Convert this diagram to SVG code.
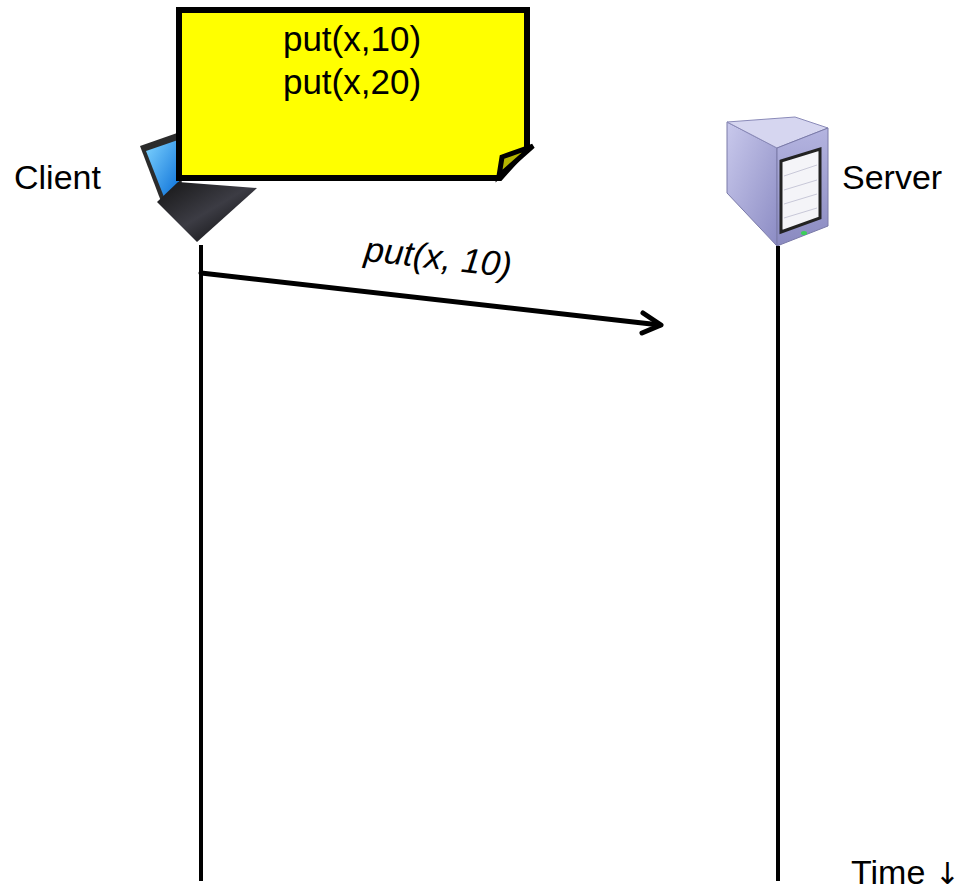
<svg xmlns="http://www.w3.org/2000/svg" width="959" height="893" viewBox="0 0 959 893">
  <style>
    .label { font-family: "Liberation Sans", Arial, sans-serif; font-size: 34px; fill: #000; }
    .note-text { font-family: "Liberation Sans", Arial, sans-serif; font-size: 35px; fill: #000; }
    .msg { font-family: "Liberation Sans", Arial, sans-serif; font-size: 35px; font-style: italic; fill: #000; }
    .lifeline { stroke: #000; stroke-width: 4; fill: none; }
    .arrow { stroke: #000; stroke-width: 5; fill: none; stroke-linecap: round; stroke-linejoin: round; }
  </style>
  <defs>
    <linearGradient id="screenGrad" x1="0" y1="0" x2="1" y2="1">
      <stop offset="0" stop-color="#7fd4ff"/>
      <stop offset="1" stop-color="#0a6fd8"/>
    </linearGradient>
    <linearGradient id="baseGrad" x1="0" y1="0" x2="1" y2="1">
      <stop offset="0" stop-color="#151515"/>
      <stop offset="0.5" stop-color="#3c3c44"/>
      <stop offset="1" stop-color="#020202"/>
    </linearGradient>
    <linearGradient id="sideGrad" x1="0" y1="0" x2="1" y2="1">
      <stop offset="0" stop-color="#c9c9ec"/>
      <stop offset="1" stop-color="#8c8cc4"/>
    </linearGradient>
    <linearGradient id="frontGrad" x1="0" y1="0" x2="0" y2="1">
      <stop offset="0" stop-color="#b4b4e0"/>
      <stop offset="1" stop-color="#8a8ac0"/>
    </linearGradient>
  </defs>

  <!-- Client laptop -->
  <g id="client-icon">
    <polygon points="140,146 180,132 182,190 162,204" fill="#2b2b2b"/>
    <polygon points="146,151 178,140 179,186 164,197" fill="url(#screenGrad)"/>
    <polygon points="157,202 178,182 257,188 197,242" fill="url(#baseGrad)"/>
  </g>

  <!-- Server tower -->
  <g id="server-icon">
    <polygon points="727,122 777,148 777,246 727,193" fill="url(#sideGrad)" stroke="#7a7aa8" stroke-width="1"/>
    <polygon points="727,122 795,117 828,128 777,148" fill="#d6d6f0" stroke="#8a8ab8" stroke-width="1"/>
    <polygon points="777,148 828,128 828,226 777,246" fill="url(#frontGrad)" stroke="#7a7aa8" stroke-width="1"/>
    <polygon points="781,161 820,149 820,218 781,232" fill="#f4f4f8" stroke="#222" stroke-width="3"/>
    <g stroke="#c8c8d8" stroke-width="1">
      <line x1="784" y1="176" x2="817" y2="165"/>
      <line x1="784" y1="190" x2="817" y2="180"/>
      <line x1="784" y1="204" x2="817" y2="194"/>
      <line x1="784" y1="218" x2="817" y2="208"/>
    </g>
    <ellipse cx="804" cy="233" rx="3" ry="2" fill="#3ccf5a"/>
  </g>

  <!-- Note -->
  <g id="note">
    <path d="M179,10 H527 V148 L500,178 H179 Z" fill="#ffff00" stroke="#000" stroke-width="6" stroke-linejoin="miter"/>
    <polygon points="502,157 533,146 499,176" fill="#b5b500" stroke="#000" stroke-width="5" stroke-linejoin="miter"/>
    <text class="note-text" x="352" y="51" text-anchor="middle">put(x,10)</text>
    <text class="note-text" x="352" y="94" text-anchor="middle">put(x,20)</text>
  </g>

  <g id="client">
    <text class="label" x="14" y="189">Client</text>
  </g>
  <g id="server">
    <text class="label" x="842" y="189">Server</text>
  </g>
  <g id="time">
    <text class="label" x="851" y="884">Time <tspan font-family="DejaVu Sans, sans-serif" font-size="30">↓</tspan></text>
  </g>

  <!-- Connectors -->
  <g id="connectors">
    <line class="lifeline" x1="201" y1="245" x2="201" y2="881"/>
    <line class="lifeline" x1="778" y1="246" x2="778" y2="881"/>
    <line class="arrow" x1="201" y1="273" x2="660" y2="325"/>
    <polyline class="arrow" points="643,313 661,325 642,333"/>
    <text class="msg" x="437" y="269" text-anchor="middle" transform="rotate(6.5 437 269)">put(x, 10)</text>
  </g>
</svg>
